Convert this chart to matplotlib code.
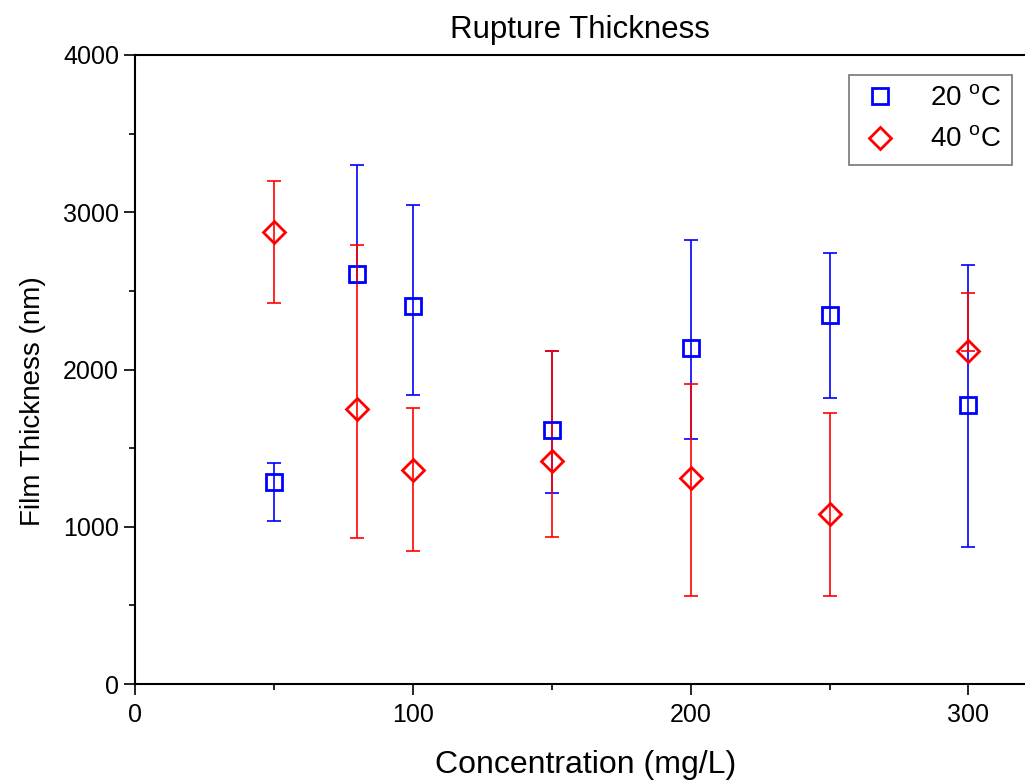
import matplotlib
matplotlib.use('Agg')
import matplotlib.pyplot as plt
import numpy as np
from matplotlib.ticker import MultipleLocator

plt.rcParams['font.family'] = ['Liberation Sans', 'DejaVu Sans']
plt.rcParams['mathtext.fontset'] = 'custom'
plt.rcParams['mathtext.rm'] = 'Liberation Sans'

# Concentration (mg/L)
conc = [50, 80, 100, 150, 200, 250, 300]

# 20 C series: mean, upper end and lower end of the error bar
t20_mean = [1285, 2607, 2404, 1615, 2137, 2347, 1774]
t20_high = [1405, 3300, 3046, 2118, 2824, 2741, 2665]
t20_low = [1037, 2550, 1838, 1215, 1558, 1819, 871]

# 40 C series
t40_mean = [2874, 1749, 1361, 1418, 1310, 1081, 2118]
t40_high = [3199, 2792, 1755, 2118, 1908, 1723, 2486]
t40_low = [2423, 928, 846, 935, 560, 560, 2118]

def yerr(mean, low, high):
    mean = np.array(mean)
    return [mean - np.array(low), np.array(high) - mean]

fig = plt.figure(figsize=(10.25, 7.8), dpi=100)
ax = fig.add_axes([135 / 1025, 96 / 780, 889 / 1025, 629 / 780])

ax.errorbar(conc, t20_mean, yerr=yerr(t20_mean, t20_low, t20_high), fmt='none',
            ecolor='blue', elinewidth=1.2, capsize=5, capthick=1.2, zorder=2)
ax.errorbar(conc, t40_mean, yerr=yerr(t40_mean, t40_low, t40_high), fmt='none',
            ecolor='red', elinewidth=1.2, capsize=5, capthick=1.2, zorder=3)
ax.plot(conc, t20_mean, 's', mfc='none', mec='blue', mew=2, ms=11,
        linestyle='none', label=r'20 $^{\mathrm{o}}$C', zorder=4)
ax.plot(conc, t40_mean, 'D', mfc='none', mec='red', mew=2, ms=11,
        linestyle='none', label=r'40 $^{\mathrm{o}}$C', zorder=4)

ax.set_xlim(0, 320)
ax.set_ylim(0, 4000)
ax.xaxis.set_major_locator(MultipleLocator(100))
ax.xaxis.set_minor_locator(MultipleLocator(50))
ax.yaxis.set_major_locator(MultipleLocator(1000))
ax.yaxis.set_minor_locator(MultipleLocator(500))
ax.tick_params(which='major', direction='out', length=8, width=1.2, labelsize=18)
ax.tick_params(axis='x', which='major', pad=6)
ax.tick_params(which='minor', direction='out', length=4, width=1.2)
ax.tick_params(top=False, right=False)

for side in ['left', 'bottom', 'top']:
    ax.spines[side].set_linewidth(1.5)
ax.spines['right'].set_visible(False)

ax.set_title('Rupture Thickness', fontsize=22.5, pad=12)
ax.set_xlabel('Concentration (mg/L)', fontsize=23)
ax.set_ylabel('Film Thickness (nm)', fontsize=20)
ax.xaxis.set_label_coords((586 - 135) / 889, (684 - 750) / 629)
ax.yaxis.set_label_coords((46 - 135) / 889, (684 - 401) / 629)

leg = ax.legend(loc='upper right', bbox_to_anchor=((1012 - 135) / 889, 1 - 20 / 629),
                borderaxespad=0, fontsize=20, frameon=True, fancybox=False,
                edgecolor='#555555', handletextpad=1.1, borderpad=0.4,
                labelspacing=0.55, handlelength=1.4)
leg.get_frame().set_linewidth(1.2)

fig.savefig('out.png', dpi=100)
